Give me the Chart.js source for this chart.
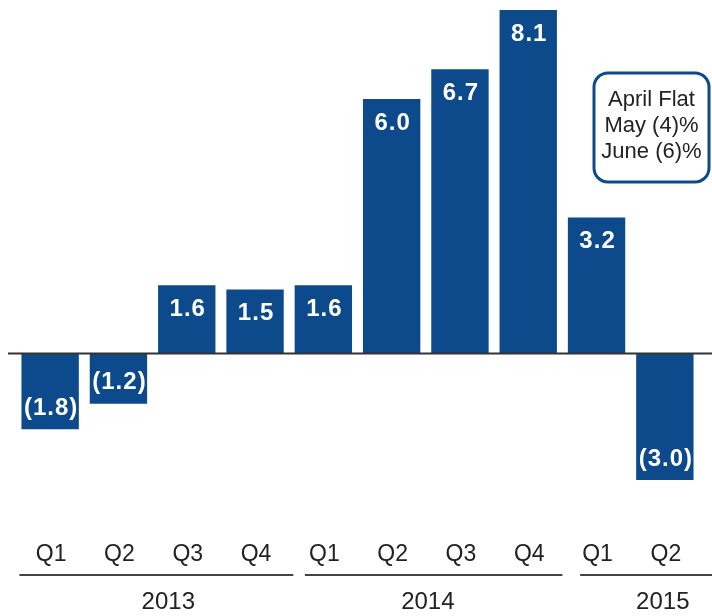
<!DOCTYPE html>
<html>
<head>
<meta charset="utf-8">
<script src="https://cdn.jsdelivr.net/npm/chart.js@4"></script>
<style>
  body { margin: 0; background: #fff; }
  canvas { display: block; }
</style>
</head>
<body>
<canvas id="growthChart" width="712" height="616"></canvas>
<script>
const quarters = ['Q1', 'Q2', 'Q3', 'Q4', 'Q1', 'Q2', 'Q3', 'Q4', 'Q1', 'Q2'];
const growth = [-1.8, -1.2, 1.6, 1.5, 1.6, 6.0, 6.7, 8.1, 3.2, -3.0];
const years = ['2013', '2014', '2015'];
const noteLines = ['April Flat', 'May (4)%', 'June (6)%'];

const BLUE = '#0c4a8c';
const FONT = '"Liberation Sans", Arial, Helvetica, sans-serif';

// value labels inside the bars, negatives shown in parentheses
const barLabels = {
  id: 'barLabels',
  afterDatasetsDraw(chart) {
    const {ctx} = chart;
    const meta = chart.getDatasetMeta(0);
    ctx.save();
    ctx.fillStyle = '#fff';
    ctx.font = 'bold 24px ' + FONT;
    ctx.textAlign = 'center';
    ctx.textBaseline = 'middle';
    if ('letterSpacing' in ctx) ctx.letterSpacing = '1px';
    meta.data.forEach((bar, i) => {
      const v = growth[i];
      const txt = v < 0 ? '(' + Math.abs(v).toFixed(1) + ')' : v.toFixed(1);
      const y = v < 0 ? bar.y - 21 : bar.y + 24;
      ctx.fillText(txt, bar.x + 1, y);
    });
    ctx.restore();
  }
};

// zero line, quarter / year labels, and the monthly note box
const decorations = {
  id: 'decorations',
  afterDraw(chart, args, opts) {
    const {ctx, chartArea} = chart;
    const x = chart.scales.x;
    const y = chart.scales.y;
    ctx.save();

    const y0 = Math.round(y.getPixelForValue(0)) + 0.5;
    ctx.strokeStyle = '#333';
    ctx.lineWidth = 2;
    ctx.beginPath();
    ctx.moveTo(8, y0);
    ctx.lineTo(chart.width, y0);
    ctx.stroke();

    ctx.fillStyle = '#222';
    ctx.textAlign = 'center';
    ctx.textBaseline = 'middle';
    ctx.font = '23px ' + FONT;
    quarters.forEach((q, i) => {
      ctx.fillText(q, x.getPixelForValue(i) + 1, chartArea.bottom + 75);
    });

    ctx.strokeStyle = '#444';
    ctx.font = '24px ' + FONT;
    years.forEach((yr, i) => {
      const [a, b] = opts.spans[i];
      const lineY = chartArea.bottom + 95;
      ctx.beginPath();
      ctx.moveTo(x.getPixelForValue(a), lineY);
      ctx.lineTo(Math.min(x.getPixelForValue(b), chart.width), lineY);
      ctx.stroke();
      ctx.fillText(yr, x.getPixelForValue(opts.yearAt[i]), chartArea.bottom + 122);
    });

    // note box
    const bx = 594, by = 73, bw = 115, bh = 109;
    ctx.strokeStyle = BLUE;
    ctx.lineWidth = 3;
    ctx.beginPath();
    ctx.roundRect(bx, by, bw, bh, 14);
    ctx.stroke();
    ctx.fillStyle = '#222';
    ctx.font = '22px ' + FONT;
    noteLines.forEach((t, i) => {
      ctx.fillText(t, bx + bw / 2, by + 27 + i * 26);
    });

    ctx.restore();
  }
};

new Chart(document.getElementById('growthChart'), {
  type: 'bar',
  data: {
    labels: quarters,
    datasets: [{
      data: growth,
      backgroundColor: BLUE,
      borderWidth: 0,
      barPercentage: 0.84,
      categoryPercentage: 1.0,
      clip: false
    }]
  },
  options: {
    responsive: false,
    animation: false,
    layout: { padding: { left: 16, right: 13, top: 10, bottom: 136 } },
    scales: {
      x: { display: false },
      y: { display: false, min: -3.0, max: 8.1 }
    },
    plugins: {
      legend: { display: false },
      tooltip: { enabled: false },
      decorations: {
        spans: [[-0.45, 3.56], [3.73, 7.5], [7.76, 11]],
        yearAt: [1.73, 5.53, 8.97]
      }
    }
  },
  plugins: [barLabels, decorations]
});
</script>
</body>
</html>
